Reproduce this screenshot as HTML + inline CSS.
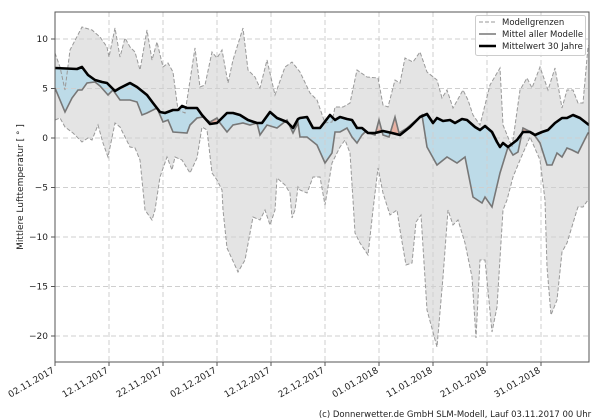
<!DOCTYPE html>
<html><head><meta charset="utf-8"><style>
html,body{margin:0;padding:0;background:#fff;}
svg{display:block;font-family:"DejaVu Sans","Liberation Sans",sans-serif;}
</style></head><body>
<svg width="600" height="420" viewBox="0 0 600 420" xmlns="http://www.w3.org/2000/svg">
<defs>
<clipPath id="plot"><rect x="55" y="12" width="534" height="350"/></clipPath>
<clipPath id="belowC"><polygon id="bc" points="55,68 77,69 82,67 88,75 95,80 102,82 107,83 115,91 120,88 130,83 137,87 147,95 153,103 160,112 165,113 173,110 178,110 182,106 187,108 197,108 202,115 210,124 217,123 220,120 227,113 233,113 240,115 248,120 257,123 262,123 270,112 277,118 287,122 293,128 298,119 300,118 307,117 313,128 320,128 330,115 335,120 340,117 347,119 352,120 357,128 362,128 368,133 375,133 383,131 392,133 400,135 410,127 420,117 427,114 433,123 437,118 443,121 450,120 455,123 462,119 467,120 475,127 480,130 485,126 492,132 497,142 500,147 503,143 508,147 517,140 523,132 530,132 535,135 542,132 548,130 555,123 562,118 567,118 573,115 580,118 589,125 589,400 55,400"/></clipPath>
<clipPath id="aboveC"><polygon points="55,68 77,69 82,67 88,75 95,80 102,82 107,83 115,91 120,88 130,83 137,87 147,95 153,103 160,112 165,113 173,110 178,110 182,106 187,108 197,108 202,115 210,124 217,123 220,120 227,113 233,113 240,115 248,120 257,123 262,123 270,112 277,118 287,122 293,128 298,119 300,118 307,117 313,128 320,128 330,115 335,120 340,117 347,119 352,120 357,128 362,128 368,133 375,133 383,131 392,133 400,135 410,127 420,117 427,114 433,123 437,118 443,121 450,120 455,123 462,119 467,120 475,127 480,130 485,126 492,132 497,142 500,147 503,143 508,147 517,140 523,132 530,132 535,135 542,132 548,130 555,123 562,118 567,118 573,115 580,118 589,125 589,0 55,0"/></clipPath>
</defs>
<g clip-path="url(#plot)">
<!-- model range -->
<polygon fill="#e4e4e4" stroke="none" points="55,53 60,67 65,90 70,50 82,27 92,30 100,37 107,47 109,57 115,28 120,57 125,38 130,47 135,52 140,70 147,30 152,60 157,42 163,67 168,63 173,72 178,110 185,113 195,48 200,87 205,85 212,52 217,58 222,50 228,83 233,60 243,28 248,70 255,77 260,88 267,60 275,95 285,67 292,62 300,72 310,93 317,100 325,123 332,122 335,107 343,107 350,103 357,70 367,77 378,78 383,105 388,107 395,80 400,83 405,58 413,62 420,52 427,72 437,80 442,98 447,90 453,108 463,90 468,100 473,115 480,125 490,85 500,68 503,125 512,147 520,90 527,78 532,88 540,67 548,90 555,68 562,108 567,90 573,90 578,103 583,103 588,47 589,45 589,200 588,200 583,207 578,207 577,210 567,243 562,252 557,300 551,315 547,267 545,200 540,160 530,137 520,160 513,177 507,200 503,210 497,307 492,332 485,260 480,260 476,338 472,277 465,243 458,220 453,225 448,210 443,277 437,347 427,310 421,215 416,222 412,263 406,265 400,230 397,210 390,215 383,193 378,168 373,210 368,255 360,243 355,233 353,200 350,153 345,140 340,147 335,157 332,163 325,205 320,177 313,177 307,193 300,190 298,187 295,210 292,218 290,193 285,185 277,178 275,210 270,225 265,210 260,220 253,217 245,260 238,272 227,248 223,210 222,190 217,180 212,173 207,130 202,127 197,158 190,173 182,160 175,157 172,170 167,157 160,177 155,210 152,220 145,210 140,160 135,148 130,147 120,127 115,123 108,157 103,143 98,125 92,140 88,138 82,142 73,133 65,127 60,118 55,120"/>
<!-- difference region -->
<g id="diff">
<polygon id="dp" points="55,68 77,69 82,67 88,75 95,80 102,82 107,83 115,91 120,88 130,83 137,87 147,95 153,103 160,112 165,113 173,110 178,110 182,106 187,108 197,108 202,115 210,124 217,123 220,120 227,113 233,113 240,115 248,120 257,123 262,123 270,112 277,118 287,122 293,128 298,119 300,118 307,117 313,128 320,128 330,115 335,120 340,117 347,119 352,120 357,128 362,128 368,133 375,133 383,131 392,133 400,135 410,127 420,117 427,114 433,123 437,118 443,121 450,120 455,123 462,119 467,120 475,127 480,130 485,126 492,132 497,142 500,147 503,143 508,147 517,140 523,132 530,132 535,135 542,132 548,130 555,123 562,118 567,118 573,115 580,118 589,125 589,133 588,133 578,153 572,150 567,148 562,157 557,153 552,165 547,165 540,143 533,133 523,128 518,152 513,155 508,147 500,173 492,207 485,197 482,203 473,197 465,157 457,163 447,157 437,165 427,147 422,115 407,128 399,133 395,117 389,137 383,135 379,120 375,135 365,132 362,135 357,143 352,137 347,128 340,132 335,132 332,153 325,163 317,145 307,137 300,137 298,123 293,133 287,120 277,128 267,125 260,135 257,123 250,125 243,123 233,125 227,132 220,123 217,118 210,122 203,117 197,118 190,125 187,133 173,132 168,120 163,122 157,108 147,113 142,115 137,102 130,100 120,100 113,90 108,95 100,86 95,82 87,83 82,90 78,90 72,98 65,112 55,88"/>
</g>
<use href="#dp" fill="#bddbe8" clip-path="url(#belowC)"/>
<use href="#dp" fill="#e8b2a4" clip-path="url(#aboveC)"/>
</g>
<!-- grid -->
<g stroke="#cfcfcf" stroke-width="1" stroke-dasharray="5,3" fill="none">
<line x1="55" y1="39" x2="589" y2="39"/><line x1="55" y1="88.5" x2="589" y2="88.5"/><line x1="55" y1="138" x2="589" y2="138"/><line x1="55" y1="187.5" x2="589" y2="187.5"/><line x1="55" y1="237" x2="589" y2="237"/><line x1="55" y1="286.5" x2="589" y2="286.5"/><line x1="55" y1="336" x2="589" y2="336"/>
<line x1="109" y1="12" x2="109" y2="362"/><line x1="163" y1="12" x2="163" y2="362"/><line x1="217" y1="12" x2="217" y2="362"/><line x1="271" y1="12" x2="271" y2="362"/><line x1="325" y1="12" x2="325" y2="362"/><line x1="379" y1="12" x2="379" y2="362"/><line x1="433" y1="12" x2="433" y2="362"/><line x1="487" y1="12" x2="487" y2="362"/><line x1="541" y1="12" x2="541" y2="362"/>
</g>
<g clip-path="url(#plot)" fill="none">
<polyline stroke="#999" stroke-width="1" stroke-dasharray="4,2" points="55,53 60,67 65,90 70,50 82,27 92,30 100,37 107,47 109,57 115,28 120,57 125,38 130,47 135,52 140,70 147,30 152,60 157,42 163,67 168,63 173,72 178,110 185,113 195,48 200,87 205,85 212,52 217,58 222,50 228,83 233,60 243,28 248,70 255,77 260,88 267,60 275,95 285,67 292,62 300,72 310,93 317,100 325,123 332,122 335,107 343,107 350,103 357,70 367,77 378,78 383,105 388,107 395,80 400,83 405,58 413,62 420,52 427,72 437,80 442,98 447,90 453,108 463,90 468,100 473,115 480,125 490,85 500,68 503,125 512,147 520,90 527,78 532,88 540,67 548,90 555,68 562,108 567,90 573,90 578,103 583,103 588,47 589,45"/>
<polyline stroke="#999" stroke-width="1" stroke-dasharray="4,2" points="55,120 60,118 65,127 73,133 82,142 88,138 92,140 98,125 103,143 108,157 115,123 120,127 130,147 135,148 140,160 145,210 152,220 155,210 160,177 167,157 172,170 175,157 182,160 190,173 197,158 202,127 207,130 212,173 217,180 222,190 223,210 227,248 238,272 245,260 253,217 260,220 265,210 270,225 275,210 277,178 285,185 290,193 292,218 295,210 298,187 300,190 307,193 313,177 320,177 325,205 332,163 335,157 340,147 345,140 350,153 353,200 355,233 360,243 368,255 373,210 378,168 383,193 390,215 397,210 400,230 406,265 412,263 416,222 421,215 427,310 437,347 443,277 448,210 453,225 458,220 465,243 472,277 476,338 480,260 485,260 492,332 497,307 503,210 507,200 513,177 520,160 530,137 540,160 545,200 547,267 551,315 557,300 562,252 567,243 577,210 578,207 583,207 588,200 589,200"/>
<polyline stroke="#777" stroke-width="1.6" points="55,88 65,112 72,98 78,90 82,90 87,83 95,82 100,86 108,95 113,90 120,100 130,100 137,102 142,115 147,113 157,108 163,122 168,120 173,132 187,133 190,125 197,118 203,117 210,122 217,118 220,123 227,132 233,125 243,123 250,125 257,123 260,135 267,125 277,128 287,120 293,133 298,123 300,137 307,137 317,145 325,163 332,153 335,132 340,132 347,128 352,137 357,143 362,135 365,132 375,135 379,120 383,135 389,137 395,117 399,133 407,128 422,115 427,147 437,165 447,157 457,163 465,157 473,197 482,203 485,197 492,207 500,173 508,147 513,155 518,152 523,128 533,133 540,143 547,165 552,165 557,153 562,157 567,148 572,150 578,153 588,133 589,133"/>
<polyline stroke="#000" stroke-width="2.6" stroke-linejoin="round" points="55,68 77,69 82,67 88,75 95,80 102,82 107,83 115,91 120,88 130,83 137,87 147,95 153,103 160,112 165,113 173,110 178,110 182,106 187,108 197,108 202,115 210,124 217,123 220,120 227,113 233,113 240,115 248,120 257,123 262,123 270,112 277,118 287,122 293,128 298,119 300,118 307,117 313,128 320,128 330,115 335,120 340,117 347,119 352,120 357,128 362,128 368,133 375,133 383,131 392,133 400,135 410,127 420,117 427,114 433,123 437,118 443,121 450,120 455,123 462,119 467,120 475,127 480,130 485,126 492,132 497,142 500,147 503,143 508,147 517,140 523,132 530,132 535,135 542,132 548,130 555,123 562,118 567,118 573,115 580,118 589,125"/>
</g>
<!-- axes frame -->
<rect x="55" y="12" width="534" height="350" fill="none" stroke="#555" stroke-width="1"/>
<g stroke="#555" stroke-width="1">
<line x1="51" y1="39" x2="55" y2="39"/><line x1="51" y1="88.5" x2="55" y2="88.5"/><line x1="51" y1="138" x2="55" y2="138"/><line x1="51" y1="187.5" x2="55" y2="187.5"/><line x1="51" y1="237" x2="55" y2="237"/><line x1="51" y1="286.5" x2="55" y2="286.5"/><line x1="51" y1="336" x2="55" y2="336"/>
<line x1="55" y1="362" x2="55" y2="366"/><line x1="109" y1="362" x2="109" y2="366"/><line x1="163" y1="362" x2="163" y2="366"/><line x1="217" y1="362" x2="217" y2="366"/><line x1="271" y1="362" x2="271" y2="366"/><line x1="325" y1="362" x2="325" y2="366"/><line x1="379" y1="362" x2="379" y2="366"/><line x1="433" y1="362" x2="433" y2="366"/><line x1="487" y1="362" x2="487" y2="366"/><line x1="541" y1="362" x2="541" y2="366"/>
</g>
<g font-size="9" fill="#222" text-anchor="end">
<text x="48" y="42">10</text><text x="48" y="91.5">5</text><text x="48" y="141">0</text><text x="48" y="190.5">−5</text><text x="48" y="240">−10</text><text x="48" y="289.5">−15</text><text x="48" y="339">−20</text>
</g>
<text transform="translate(23,187) rotate(-90)" font-size="9" fill="#222" text-anchor="middle">Mittlere Lufttemperatur [ ° ]</text>
<g font-size="9" fill="#222" text-anchor="end">
<text transform="translate(55,372) rotate(-30)">02.11.2017</text>
<text transform="translate(109,372) rotate(-30)">12.11.2017</text>
<text transform="translate(163,372) rotate(-30)">22.11.2017</text>
<text transform="translate(217,372) rotate(-30)">02.12.2017</text>
<text transform="translate(271,372) rotate(-30)">12.12.2017</text>
<text transform="translate(325,372) rotate(-30)">22.12.2017</text>
<text transform="translate(379,372) rotate(-30)">01.01.2018</text>
<text transform="translate(433,372) rotate(-30)">11.01.2018</text>
<text transform="translate(487,372) rotate(-30)">21.01.2018</text>
<text transform="translate(541,372) rotate(-30)">31.01.2018</text>
</g>
<!-- legend -->
<rect x="475.5" y="15.5" width="110" height="40" fill="#fff" fill-opacity="0.85" stroke="#ccc" stroke-width="1" rx="2"/>
<line x1="479" y1="22" x2="496" y2="22" stroke="#999" stroke-width="1" stroke-dasharray="4,2"/>
<line x1="479" y1="34" x2="496" y2="34" stroke="#777" stroke-width="1.6"/>
<line x1="479" y1="46" x2="496" y2="46" stroke="#000" stroke-width="2.6"/>
<g font-size="8.5" fill="#222">
<text x="502" y="25">Modellgrenzen</text>
<text x="502" y="37">Mittel aller Modelle</text>
<text x="502" y="49">Mittelwert 30 Jahre</text>
</g>
<text x="455" y="417" font-size="8.5" fill="#222" text-anchor="middle">(c) Donnerwetter.de GmbH SLM-Modell, Lauf 03.11.2017 00 Uhr</text>
</svg>
</body></html>
